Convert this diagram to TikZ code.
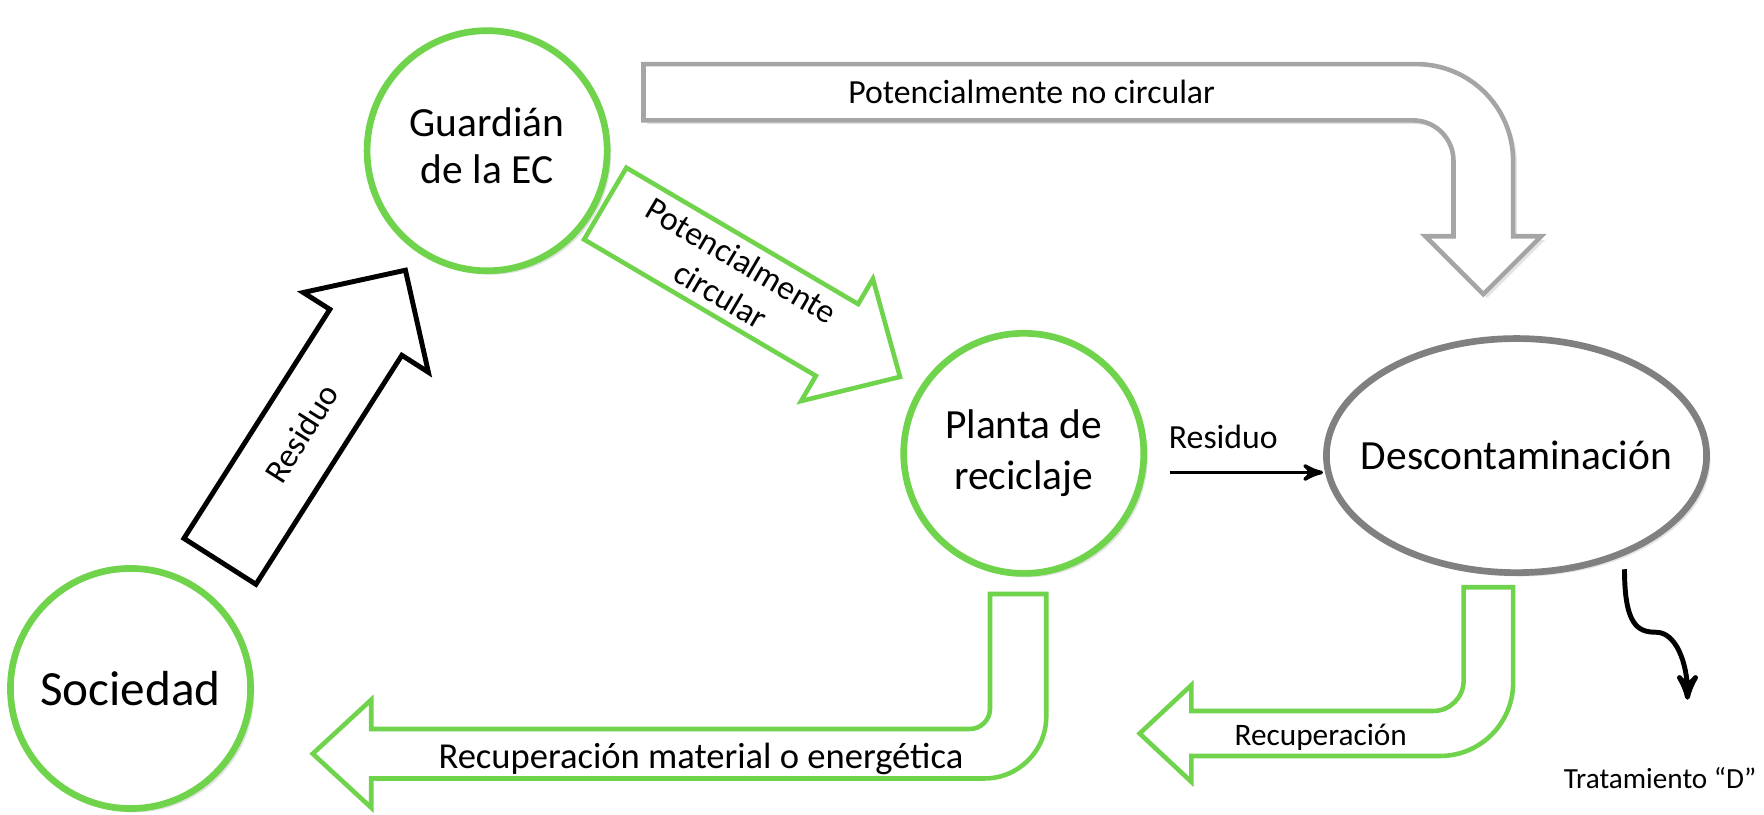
\documentclass[tikz,border=0pt]{standalone}
\usepackage{fontspec}
\setmainfont{Carlito}
\usetikzlibrary{arrows,shapes.geometric,calc,shadows}

\definecolor{leaf}{RGB}{112,211,76}
\definecolor{mist}{RGB}{165,165,165}
\definecolor{slate}{RGB}{128,128,128}

\newcommand{\bigfont}{\fontsize{11.8}{14.5}\selectfont}
\newcommand{\smallfont}{\fontsize{9.6}{11.5}\selectfont}

\begin{document}
\begin{tikzpicture}[x=0.01125cm,y=-0.01125cm,>=stealth',
  main node/.style={circle,draw=leaf,fill=white,line width=1.9pt,minimum size=2.4cm,align=center,font=\bigfont,soft shadow},
  soft shadow/.style={drop shadow={opacity=.22,shadow xshift=1.1pt,shadow yshift=-1.1pt}},
  green arrow/.style={draw=leaf,line width=1.3pt,line join=miter},
  label/.style={font=\smallfont,align=center}]

  \useasboundingbox (0,0) rectangle (1568,724.4);

  \node[main node,font=\fontsize{14}{16}\selectfont] (1) at (116,612) {Sociedad};
  \node[main node] (2) at (433,134) {\raisebox{3pt}{\shortstack{Guardián\\[2pt]de la EC}}};
  \node[main node] (3) at (910,403) {Planta de\\reciclaje};
  \node[ellipse,draw=slate,fill=white,soft shadow,line width=1.9pt,inner sep=0pt,minimum width=3.8cm,minimum height=2.34cm,font=\bigfont] (4) at (1348,405) {\makebox[0pt]{Descontaminación}};
  \node[label,anchor=east,inner sep=1pt,font=\fontsize{8.3}{10}\selectfont] (5) at (1565,692) {Tratamiento “D”};

  % Sociedad -> Guardian
  \draw[line width=1.4pt,line join=miter] (163.5,478.6) -- (293.2,275) -- (269.6,260) -- (360.4,240.2)
    -- (380.8,330.9) -- (357.2,315.8) -- (227.5,519.4) -- cycle;
  \node[label,rotate=57.5] at (268,385) {Residuo};

  % Guardian -> Planta
  \draw[green arrow] (556.8,149.1) -- (762.8,270.3) -- (775.9,247.9) -- (800,335)
    -- (712.1,356.5) -- (725.2,334.1) -- (519.2,212.9) -- cycle;
  \node[label,rotate=-30.5] at (650,247) {Potencialmente\\circular};

  % Guardian -> Descontaminacion
  \draw[mist,fill=white,soft shadow,line width=1.3pt,line join=miter] (572,57) -- (1259,57) arc[start angle=-90,end angle=0,radius=86]
    -- (1345,210) -- (1370,210) -- (1318.5,261.5) -- (1267,210) -- (1292,210) -- (1292,143)
    arc[start angle=0,end angle=-90,radius=36] -- (572,107) -- cycle;
  \node[label] at (917,82) {Potencialmente no circular};

  % Planta -> Sociedad
  \draw[green arrow] (880,528) -- (930,528) -- (930,637) arc[start angle=0,end angle=90,radius=55]
    -- (330,692) -- (330,718) -- (278,670) -- (330,622) -- (330,648) -- (862,648)
    arc[start angle=90,end angle=0,radius=18] -- cycle;
  \node[label,font=\fontsize{10.4}{12}\selectfont] at (623,675) {Recuperación material o energética};

  % Descontaminacion -> back
  \draw[green arrow] (1301,522) -- (1345,522) -- (1345,607) arc[start angle=0,end angle=90,radius=65]
    -- (1059,672) -- (1059,695) -- (1013,652) -- (1059,609) -- (1059,632) -- (1274,632)
    arc[start angle=90,end angle=0,radius=27] -- cycle;
  \node[label,font=\fontsize{8.9}{10}\selectfont] at (1174,655) {Recuperación};

  \coordinate (r) at ($(3.east)+(20,17)$);
  \coordinate (t) at (1500,622);

  \path[->,line width=1pt]
    (r) edge node[label,above=3pt,pos=.35] {Residuo} (r -| 4.west);

  \draw[->,line width=1.4pt] ($(4.south)+(96,-6)$) .. controls +(0,50) and +(-16,0) .. (1472,562)
    .. controls +(18,0) and +(0,-32) .. (t);

\end{tikzpicture}
\end{document}
